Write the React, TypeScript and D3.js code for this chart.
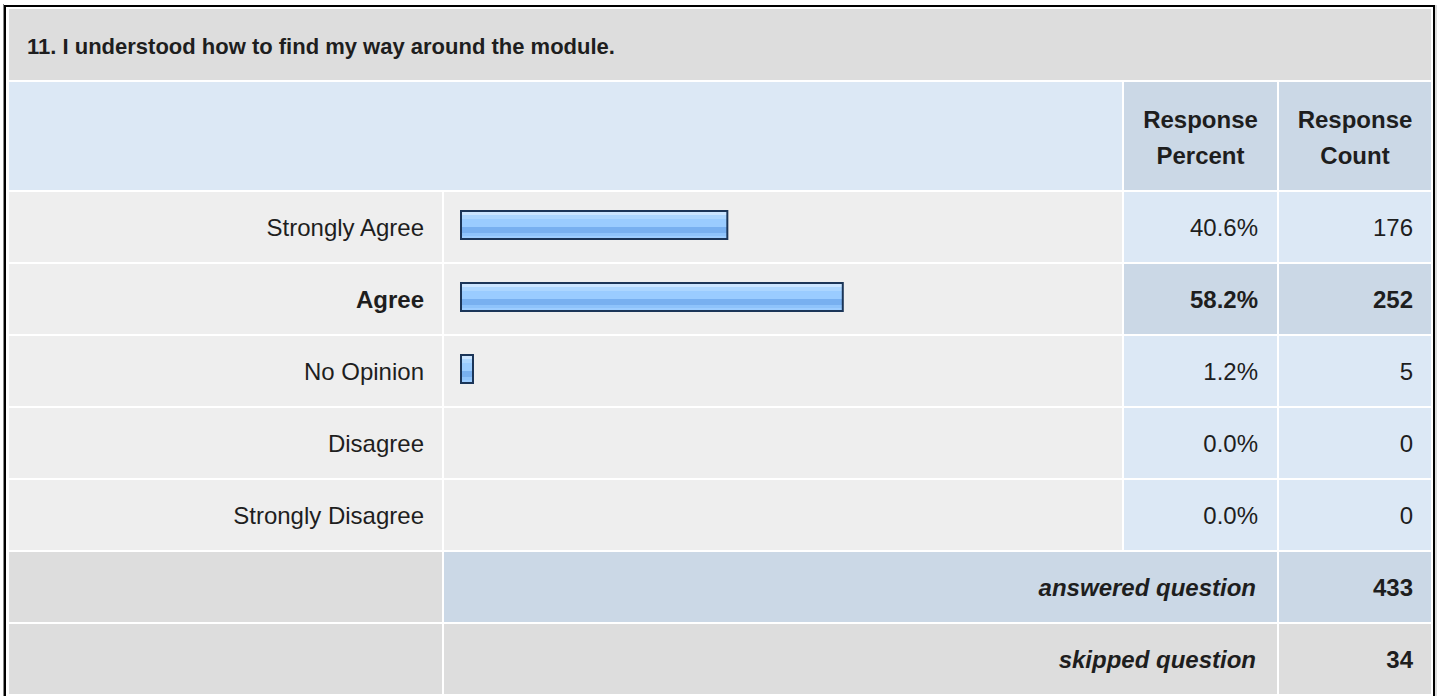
import React from "react";
import * as d3 from "d3";

const title = "11. I understood how to find my way around the module.";
const categories = ["Strongly Agree", "Agree", "No Opinion", "Disagree", "Strongly Disagree"];
const percents = [40.6, 58.2, 1.2, 0.0, 0.0];
const counts = [176, 252, 5, 0, 0];
const headerCols = [["Response", "Percent"], ["Response", "Count"]];
const summaryLabels = ["answered question", "skipped question"];
const summaryValues = [433, 34];

const W = 1440;
const H = 696;
const FONT = "'Liberation Sans', Arial, Helvetica, sans-serif";
const TEXT = "#1e1e1e";
const GRAY = "#dddddd";
const LIGHT = "#eeeeee";
const BLUE = "#dce8f5";
const BLUE2 = "#cbd8e6";

// column edges
const colLabel = [9, 442];
const colBar = [444, 1122];
const colPct = [1124, 1277];
const colCnt = [1279, 1431];

export default function App() {
  const rowKeys = [...categories, ...summaryLabels];
  const y = d3
    .scaleBand<string>()
    .domain(rowKeys)
    .range([191, 695])
    .paddingInner(2 / 72)
    .paddingOuter(1 / 72);
  const bh = y.bandwidth();
  const x = d3.scaleLinear().domain([0, 100]).range([0, 656]);
  const maxIdx = d3.maxIndex(counts);
  const fmtPct = (v: number) => d3.format(".1f")(v) + "%";

  const base = (top: number) => top + bh / 2 + 8.6;

  return (
    <div style={{ position: "absolute", left: 0, top: 0, width: W, height: H, background: "#fff" }}>
      <svg width={W} height={H} style={{ display: "block" }} fontFamily={FONT}>
        <defs>
          <linearGradient id="barGrad" x1="0" y1="0" x2="0" y2="1">
            <stop offset="0" stopColor="#cbe5ff" />
            <stop offset="0.13" stopColor="#cbe5ff" />
            <stop offset="0.13" stopColor="#acd6ff" />
            <stop offset="0.3" stopColor="#acd6ff" />
            <stop offset="0.3" stopColor="#9accff" />
            <stop offset="0.57" stopColor="#9accff" />
            <stop offset="0.57" stopColor="#78b0f0" />
            <stop offset="0.77" stopColor="#78b0f0" />
            <stop offset="0.77" stopColor="#8ec3fb" />
            <stop offset="0.88" stopColor="#8ec3fb" />
            <stop offset="0.88" stopColor="#9dcdff" />
            <stop offset="1" stopColor="#9dcdff" />
          </linearGradient>
        </defs>
        <rect x={0} y={0} width={W} height={H} fill="#fff" />

        {/* outer frame */}
        <line x1={3.5} y1={4} x2={3.5} y2={H} stroke="#888" strokeWidth={1} />
        <line x1={5} y1={5} x2={5} y2={H} stroke="#000" strokeWidth={2} />
        <line x1={4} y1={6} x2={1435} y2={6} stroke="#000" strokeWidth={2} />
        <line x1={1434} y1={5} x2={1434} y2={H} stroke="#000" strokeWidth={2} />
        <line x1={1436} y1={5} x2={1436} y2={H} stroke="#bbb" strokeWidth={1} />

        {/* title */}
        <rect x={colLabel[0]} y={9} width={colCnt[1] - colLabel[0]} height={71} fill={GRAY} />
        <text x={27} y={54} fontSize={22} fontWeight="bold" fill={TEXT}>
          {title}
        </text>

        {/* header */}
        <rect x={colLabel[0]} y={82} width={colBar[1] - colLabel[0]} height={108} fill={BLUE} />
        {[colPct, colCnt].map((c, i) => (
          <g key={"h" + i}>
            <rect x={c[0]} y={82} width={c[1] - c[0]} height={108} fill={BLUE2} />
            {headerCols[i].map((t, j) => (
              <text
                key={j}
                x={(c[0] + c[1]) / 2}
                y={128 + j * 36}
                textAnchor="middle"
                fontSize={24}
                fontWeight="bold"
                fill={TEXT}
              >
                {t}
              </text>
            ))}
          </g>
        ))}

        {/* data rows */}
        {categories.map((cat, i) => {
          const top = y(cat) as number;
          const hi = i === maxIdx;
          const fw = hi ? "bold" : "normal";
          const cellFill = hi ? BLUE2 : BLUE;
          const w = percents[i] > 0 ? Math.max(14, x(percents[i]) + 2) : 0;
          return (
            <g key={cat}>
              <rect x={colLabel[0]} y={top} width={colLabel[1] - colLabel[0]} height={bh} fill={LIGHT} />
              <rect x={colBar[0]} y={top} width={colBar[1] - colBar[0]} height={bh} fill={LIGHT} />
              <rect x={colPct[0]} y={top} width={colPct[1] - colPct[0]} height={bh} fill={cellFill} />
              <rect x={colCnt[0]} y={top} width={colCnt[1] - colCnt[0]} height={bh} fill={cellFill} />
              <text x={colLabel[1] - 18} y={base(top)} textAnchor="end" fontSize={24} fontWeight={fw} fill={TEXT}>
                {cat}
              </text>
              {w > 0 && (
                <rect
                  x={colBar[0] + 17}
                  y={top + 19}
                  width={w - 2}
                  height={28}
                  fill="url(#barGrad)"
                  stroke="#1b3558"
                  strokeWidth={2}
                />
              )}
              <text x={colPct[1] - 19} y={base(top)} textAnchor="end" fontSize={24} fontWeight={fw} fill={TEXT}>
                {fmtPct(percents[i])}
              </text>
              <text x={colCnt[1] - 18} y={base(top)} textAnchor="end" fontSize={24} fontWeight={fw} fill={TEXT}>
                {counts[i]}
              </text>
            </g>
          );
        })}

        {/* summary rows */}
        {summaryLabels.map((lab, i) => {
          const top = y(lab) as number;
          const fill = i === 0 ? BLUE2 : GRAY;
          return (
            <g key={lab}>
              <rect x={colLabel[0]} y={top} width={colLabel[1] - colLabel[0]} height={bh} fill={GRAY} />
              <rect x={colBar[0]} y={top} width={colPct[1] - colBar[0]} height={bh} fill={fill} />
              <rect x={colCnt[0]} y={top} width={colCnt[1] - colCnt[0]} height={bh} fill={fill} />
              <text
                x={colPct[1] - 21}
                y={base(top)}
                textAnchor="end"
                fontSize={24}
                fontWeight="bold"
                fontStyle="italic"
                fill={TEXT}
              >
                {lab}
              </text>
              <text x={colCnt[1] - 18} y={base(top)} textAnchor="end" fontSize={24} fontWeight="bold" fill={TEXT}>
                {summaryValues[i]}
              </text>
            </g>
          );
        })}
      </svg>
    </div>
  );
}
